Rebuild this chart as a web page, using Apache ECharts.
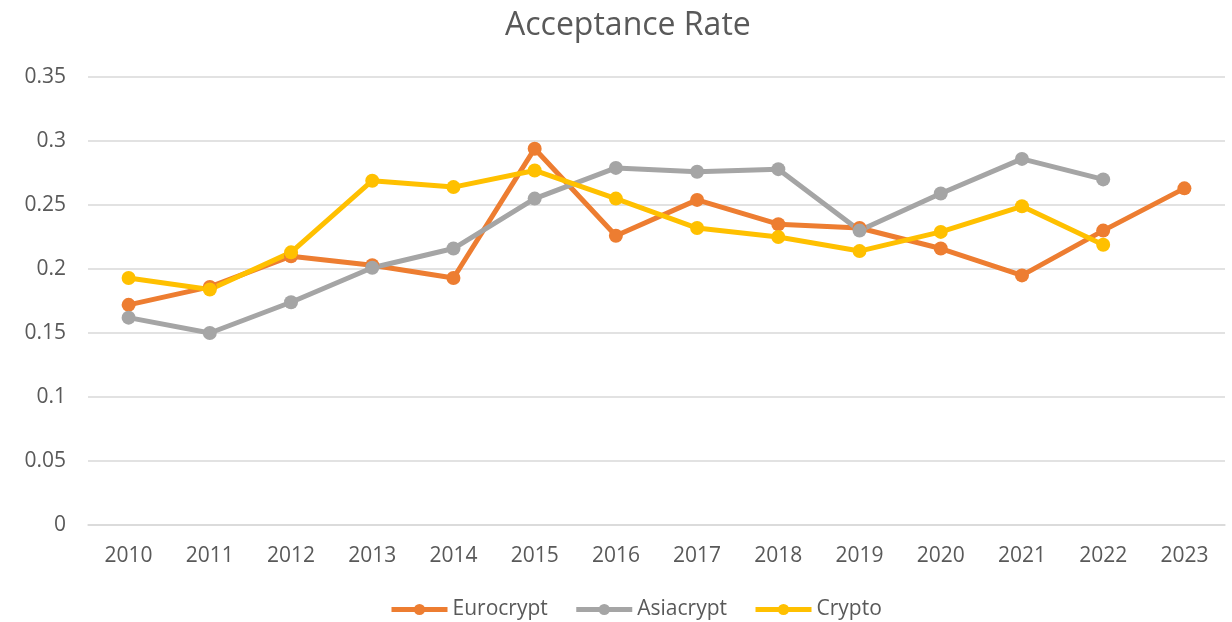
<!DOCTYPE html>
<html>
<head>
<meta charset="utf-8">
<title>Acceptance Rate</title>
<script src="https://cdn.jsdelivr.net/npm/echarts@6/dist/echarts.min.js"></script>
<style>
  html, body { margin: 0; padding: 0; background: #fff; }
  #chart { width: 1232px; height: 622px; }
</style>
</head>
<body>
<div id="chart"></div>
<script>
// years on the x axis
var years = ['2010', '2011', '2012', '2013', '2014', '2015', '2016',
             '2017', '2018', '2019', '2020', '2021', '2022', '2023'];

// acceptance rate per conference
var eurocryptRates = [0.172, 0.186, 0.210, 0.203, 0.193, 0.294, 0.226,
                      0.254, 0.235, 0.232, 0.216, 0.195, 0.230, 0.263];
var asiacryptRates = [0.162, 0.150, 0.174, 0.201, 0.216, 0.255, 0.279,
                      0.276, 0.278, 0.230, 0.259, 0.286, 0.270, null];
var cryptoRates    = [0.193, 0.184, 0.213, 0.269, 0.264, 0.277, 0.255,
                      0.232, 0.225, 0.214, 0.229, 0.249, 0.219, null];

var fontName = 'Open Sans';
var textColor = '#595959';

function lineSeries(name, data, color) {
  return {
    name: name,
    type: 'line',
    data: data,
    symbol: 'circle',
    symbolSize: 14,
    lineStyle: { width: 5, color: color },
    itemStyle: { color: color },
    emphasis: { disabled: true }
  };
}

var chart = echarts.init(document.getElementById('chart'));
chart.setOption({
  animation: false,
  textStyle: { fontFamily: fontName },
  title: {
    text: 'Acceptance Rate',
    left: 500,
    top: 5,
    textStyle: { fontFamily: fontName, fontSize: 32, fontWeight: 'normal', color: textColor }
  },
  legend: {
    top: 594,
    left: 384,
    itemWidth: 56,
    itemHeight: 14,
    itemGap: 26,
    lineStyle: { width: 5 },
    textStyle: { fontFamily: fontName, fontSize: 21, color: textColor },
    data: ['Eurocrypt', 'Asiacrypt', 'Crypto']
  },
  grid: { left: 88, right: 7, top: 77, bottom: 97 },
  xAxis: {
    type: 'category',
    data: years,
    boundaryGap: true,
    axisLine: { show: true, lineStyle: { color: '#D9D9D9', width: 1.5 } },
    axisTick: { show: false },
    axisLabel: { fontFamily: fontName, fontSize: 21, color: textColor, margin: 21 }
  },
  yAxis: {
    type: 'value',
    min: 0,
    max: 0.35,
    interval: 0.05,
    axisLine: { show: false },
    axisTick: { show: false },
    axisLabel: { fontFamily: fontName, fontSize: 21, color: textColor, margin: 22 },
    splitLine: { lineStyle: { color: '#D9D9D9', width: 1.5 } }
  },
  series: [
    lineSeries('Eurocrypt', eurocryptRates, '#ED7D31'),
    lineSeries('Asiacrypt', asiacryptRates, '#A5A5A5'),
    lineSeries('Crypto', cryptoRates, '#FFC000')
  ]
});
</script>
</body>
</html>
